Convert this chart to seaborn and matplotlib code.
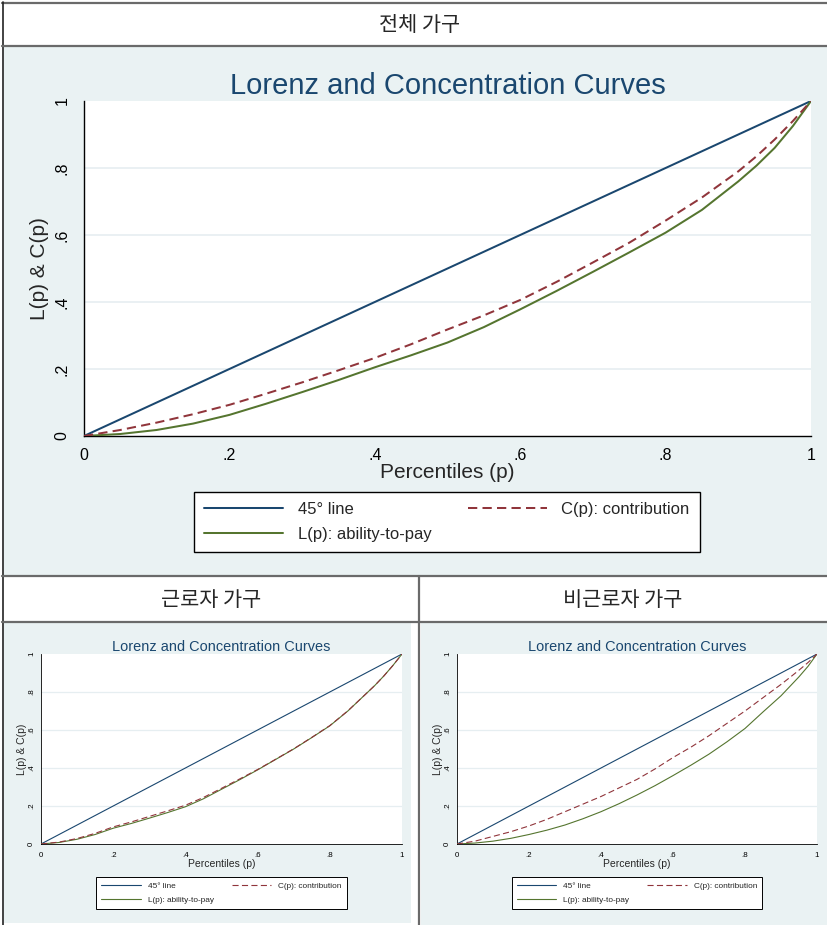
import matplotlib
matplotlib.use("Agg")
import matplotlib.pyplot as plt
import seaborn as sns
import pandas as pd
from matplotlib.patches import Rectangle
from matplotlib.lines import Line2D

# ---------------- data ----------------
P = [0, .05, .1, .15, .2, .25, .3, .35, .4, .45, .5,
     .55, .6, .65, .7, .75, .8, .85, .9, .925, .95, .975, 1]
LINE45 = [0, .05, .1, .15, .2, .25, .3, .35, .4, .45, .5,
          .55, .6, .65, .7, .75, .8, .85, .9, .925, .95, .975, 1]

# 전체 가구
ALL_C = [0, .018, .04, .065, .093, .126, .16, .196, .233, .274, .318,
         .36, .406, .46, .518, .577, .643, .712, .79, .835, .885, .94, 1]
ALL_L = [0, .006, .018, .037, .063, .096, .131, .167, .205, .241, .279,
         .325, .378, .433, .49, .548, .607, .675, .76, .807, .86, .925, 1]
# 근로자 가구
WRK_C = [0, .01, .029, .056, .09, .116, .145, .174, .204, .245, .293,
         .342, .392, .446, .501, .561, .623, .701, .79, .835, .885, .94, 1]
WRK_L = [0, .008, .025, .05, .083, .108, .136, .165, .196, .238, .288,
         .338, .39, .445, .5, .56, .622, .7, .79, .835, .885, .94, 1]
# 비근로자 가구
NON_C = [0, .015, .04, .065, .095, .13, .17, .21, .25, .295, .34,
         .395, .455, .51, .57, .635, .7, .77, .84, .877, .915, .955, 1]
NON_L = [0, .005, .015, .03, .05, .073, .1, .133, .17, .212, .258,
         .307, .36, .415, .473, .538, .608, .695, .78, .83, .88, .935, 1]

HEADERS = ["전체 가구", "근로자 가구", "비근로자 가구"]
TITLE = "Lorenz and Concentration Curves"
SERIES = ["45° line", "C(p): contribution", "L(p): ability-to-pay"]
TICKS = [0, .2, .4, .6, .8, 1]
TICK_LABELS = ["0", ".2", ".4", ".6", ".8", "1"]
XLABEL = "Percentiles (p)"
YLABEL = "L(p) & C(p)"

# ---------------- style ----------------
NAVY = "#1a476f"
MAROON = "#90353b"
FOREST = "#55752f"
BG = "#eaf2f3"
GRID = "#e6eef1"
FRAME = "#6a6a6a"

sns.set_style("white")
plt.rcParams["font.family"] = ["Liberation Sans", "DejaVu Sans"]
KFONT = ["Noto Sans CJK KR", "DejaVu Sans"]

W, H = 827, 925
fig = plt.figure(figsize=(W / 100, H / 100), dpi=100)


def rect(x0, y0, x1, y1):
    return [x0 / W, 1 - y1 / H, (x1 - x0) / W, (y1 - y0) / H]


def bg(x0, y0, x1, y1, color):
    fig.add_artist(Rectangle((x0 / W, 1 - y1 / H), (x1 - x0) / W, (y1 - y0) / H,
                             transform=fig.transFigure, facecolor=color,
                             edgecolor="none", zorder=-5))


def hline(y, x0, x1, lw=1.6, color=FRAME):
    fig.add_artist(Line2D([x0 / W, x1 / W], [1 - y / H, 1 - y / H],
                          transform=fig.transFigure, color=color, lw=lw, zorder=10))


def vline(x, y0, y1, lw=1.6, color=FRAME):
    fig.add_artist(Line2D([x / W, x / W], [1 - y0 / H, 1 - y1 / H],
                          transform=fig.transFigure, color=color, lw=lw, zorder=10))


# cell backgrounds
bg(4, 47, 827, 575, BG)
bg(4, 623, 411, 923, BG)
bg(421, 623, 827, 925, BG)

# table frame
hline(3, 2, 827)
vline(3, 2, 925, lw=1.2, color="#222222")
hline(46, 2, 827)
hline(576, 2, 827)
hline(622, 2, 827)
vline(419, 576, 925)

fig.text(420 / W, 1 - 25 / H, HEADERS[0], family=KFONT, fontsize=15,
         ha="center", va="center")
fig.text(211 / W, 1 - 600 / H, HEADERS[1], family=KFONT, fontsize=15,
         ha="center", va="center")
fig.text(623 / W, 1 - 600 / H, HEADERS[2], family=KFONT, fontsize=15,
         ha="center", va="center")


def panel(box, cvals, lvals, big, leg_cx, leg_top):
    s = 1.0 if big else 0.497
    ax = fig.add_axes(rect(*box))
    ax.set_facecolor("white")
    lw = 1.45 if big else 0.8
    for g in TICKS[1:-1]:
        ax.axhline(g, color=GRID, lw=1.2 if big else 0.9, zorder=0)
    sns.lineplot(x=P, y=LINE45, ax=ax, color=NAVY, lw=lw, estimator=None,
                 sort=False, zorder=3)
    sns.lineplot(x=P, y=lvals, ax=ax, color=FOREST, lw=lw, estimator=None,
                 sort=False, zorder=3)
    dash = (4.6, 2.6) if big else (5.5, 3.0)
    sns.lineplot(x=P, y=cvals, ax=ax, color=MAROON, lw=lw, estimator=None,
                 sort=False, zorder=4, dashes=dash)
    ax.set_xlim(0, 1)
    ax.set_ylim(0, 1)
    ax.margins(0)
    for sp in ["top", "right"]:
        ax.spines[sp].set_visible(False)
    for sp in ["left", "bottom"]:
        ax.spines[sp].set_color("black")
        ax.spines[sp].set_linewidth(1.0 if big else 0.6)
    ax.set_xticks(TICKS)
    ax.set_xticklabels(TICK_LABELS)
    ax.set_yticks(TICKS)
    ax.set_yticklabels(TICK_LABELS, rotation=90, va="center")
    tfs = 11.5 * s
    ax.tick_params(axis="both", direction="out", length=4.4 * s,
                   width=1.0 if big else 0.6, labelsize=tfs, color="black",
                   labelcolor="black")
    ax.tick_params(axis="x", pad=4.5 if big else 3.4)
    ax.tick_params(axis="y", pad=6 if big else 2.2)
    ax.set_xlabel(XLABEL, fontsize=15 * s, labelpad=0)
    ax.set_ylabel(YLABEL, fontsize=15 * s, labelpad=4 if big else 0.8)
    ax.set_title(TITLE, fontsize=21 * s, color=NAVY, pad=5 * s)

    handles = [Line2D([], [], color=NAVY, lw=lw),
               Line2D([], [], color=FOREST, lw=lw),
               Line2D([], [], color=MAROON, lw=lw, dashes=dash)]
    labels = [SERIES[0], SERIES[2], SERIES[1]]
    leg = ax.legend(handles, labels, ncol=2, loc="upper center",
                    bbox_to_anchor=(leg_cx / W, 1 - leg_top / H),
                    bbox_transform=fig.transFigure, borderaxespad=0,
                    fontsize=12 * s, handlelength=4.75, handletextpad=0.85,
                    columnspacing=2.2, borderpad=0.6,
                    labelspacing=0.58 if big else 0.8,
                    frameon=True, fancybox=False, shadow=False,
                    facecolor="white", edgecolor="black", framealpha=1)
    leg.get_frame().set_linewidth(1.0 if big else 0.7)
    return ax


panel((84, 101, 811, 436), ALL_C, ALL_L, True, 447, 492)
panel((41, 654, 402, 844), WRK_C, WRK_L, False, 221.5, 877)
panel((457, 654, 817, 844), NON_C, NON_L, False, 637, 877)

fig.savefig("out.png", dpi=100)
